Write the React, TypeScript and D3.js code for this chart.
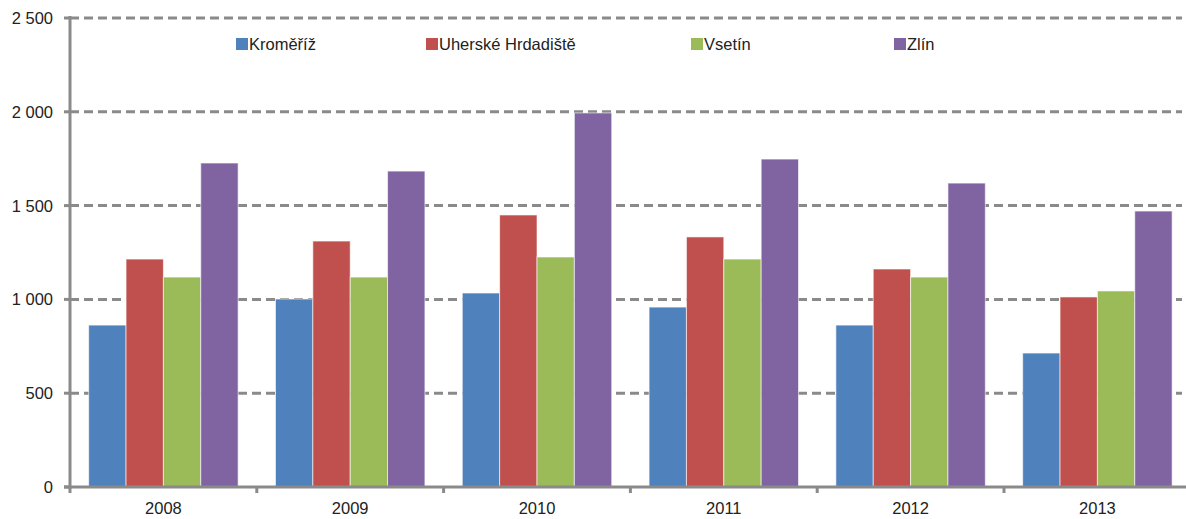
import React from "react";
import * as d3 from "d3";

const years = ["2008", "2009", "2010", "2011", "2012", "2013"];
const seriesNames = ["Kroměříž", "Uherské Hrdadiště", "Vsetín", "Zlín"];
const kromeriz = [863, 1002, 1034, 959, 863, 714];
const uherskeHradiste = [1215, 1311, 1450, 1333, 1162, 1013];
const vsetin = [1119, 1119, 1226, 1215, 1119, 1045];
const zlin = [1727, 1684, 1994, 1748, 1620, 1471];
const yTicks = [0, 500, 1000, 1500, 2000, 2500];
const colors = ["#4F81BD", "#C0504D", "#9BBB59", "#8064A2"];

const W = 1186;
const H = 519;
const left = 70;
const top = 18;
const bottom = 487;
const catWidth = 186.8;
const legendX = [236, 426, 691, 894];

export default function App() {
  const values = [kromeriz, uherskeHradiste, vsetin, zlin];

  const x0 = d3
    .scaleBand<string>()
    .domain(years)
    .range([left, left + catWidth * years.length])
    .paddingInner(0)
    .paddingOuter(0);
  const x1 = d3
    .scaleBand<string>()
    .domain(seriesNames)
    .range([0, x0.bandwidth()])
    .paddingInner(0)
    .paddingOuter(0.5);
  const y = d3.scaleLinear().domain([0, 2500]).range([bottom, top]);

  const fmt = (v: number) => d3.format(",")(v).replace(",", " ");
  const font = "'Liberation Sans', Arial, sans-serif";

  return (
    <svg
      width={W}
      height={H}
      style={{ position: "absolute", left: 0, top: 0, background: "#fff" }}
      fontFamily={font}
    >
      {/* gridlines */}
      {yTicks
        .filter((t) => t > 0)
        .map((t) => (
          <line
            key={"g" + t}
            x1={left}
            x2={W - 4}
            y1={y(t)}
            y2={y(t)}
            stroke="#8a8a8a"
            strokeWidth={3}
            strokeDasharray="9,5"
          />
        ))}

      {/* bars */}
      {years.map((yr, i) => (
        <g key={yr} transform={`translate(${x0(yr)},0)`}>
          {seriesNames.map((s, j) => (
            <rect
              key={s}
              x={x1(s)}
              y={y(values[j][i])}
              width={x1.bandwidth()}
              height={bottom - y(values[j][i])}
              fill={colors[j]}
              stroke="rgba(255,255,255,0.6)"
              strokeWidth={1}
            />
          ))}
        </g>
      ))}

      {/* y axis */}
      <line x1={left} x2={left} y1={top - 2} y2={bottom + 1.5} stroke="#8a8a8a" strokeWidth={3} />
      {yTicks.map((t) => (
        <g key={"y" + t}>
          <line x1={left - 6} x2={left} y1={y(t)} y2={y(t)} stroke="#8a8a8a" strokeWidth={3} />
          <text x={53} y={y(t)} dy="0.36em" textAnchor="end" fontSize={16.5} fill="#222">
            {fmt(t)}
          </text>
        </g>
      ))}

      {/* x axis */}
      <line x1={left - 6} x2={W} y1={bottom} y2={bottom} stroke="#8a8a8a" strokeWidth={3} />
      {years.map((yr) => (
        <g key={"x" + yr}>
          <line
            x1={x0(yr)!}
            x2={x0(yr)!}
            y1={bottom}
            y2={bottom + 6}
            stroke="#8a8a8a"
            strokeWidth={3}
          />
          <text
            x={x0(yr)! + x0.bandwidth() / 2}
            y={514}
            textAnchor="middle"
            fontSize={16.5}
            fill="#222"
          >
            {yr}
          </text>
        </g>
      ))}

      {/* legend */}
      {seriesNames.map((s, j) => (
        <g key={"l" + s} transform={`translate(${legendX[j]},38)`}>
          <rect x={0} y={0} width={12} height={12} fill={colors[j]} />
          <text x={13} y={12} fontSize={16.5} fill="#222">
            {s}
          </text>
        </g>
      ))}
    </svg>
  );
}
